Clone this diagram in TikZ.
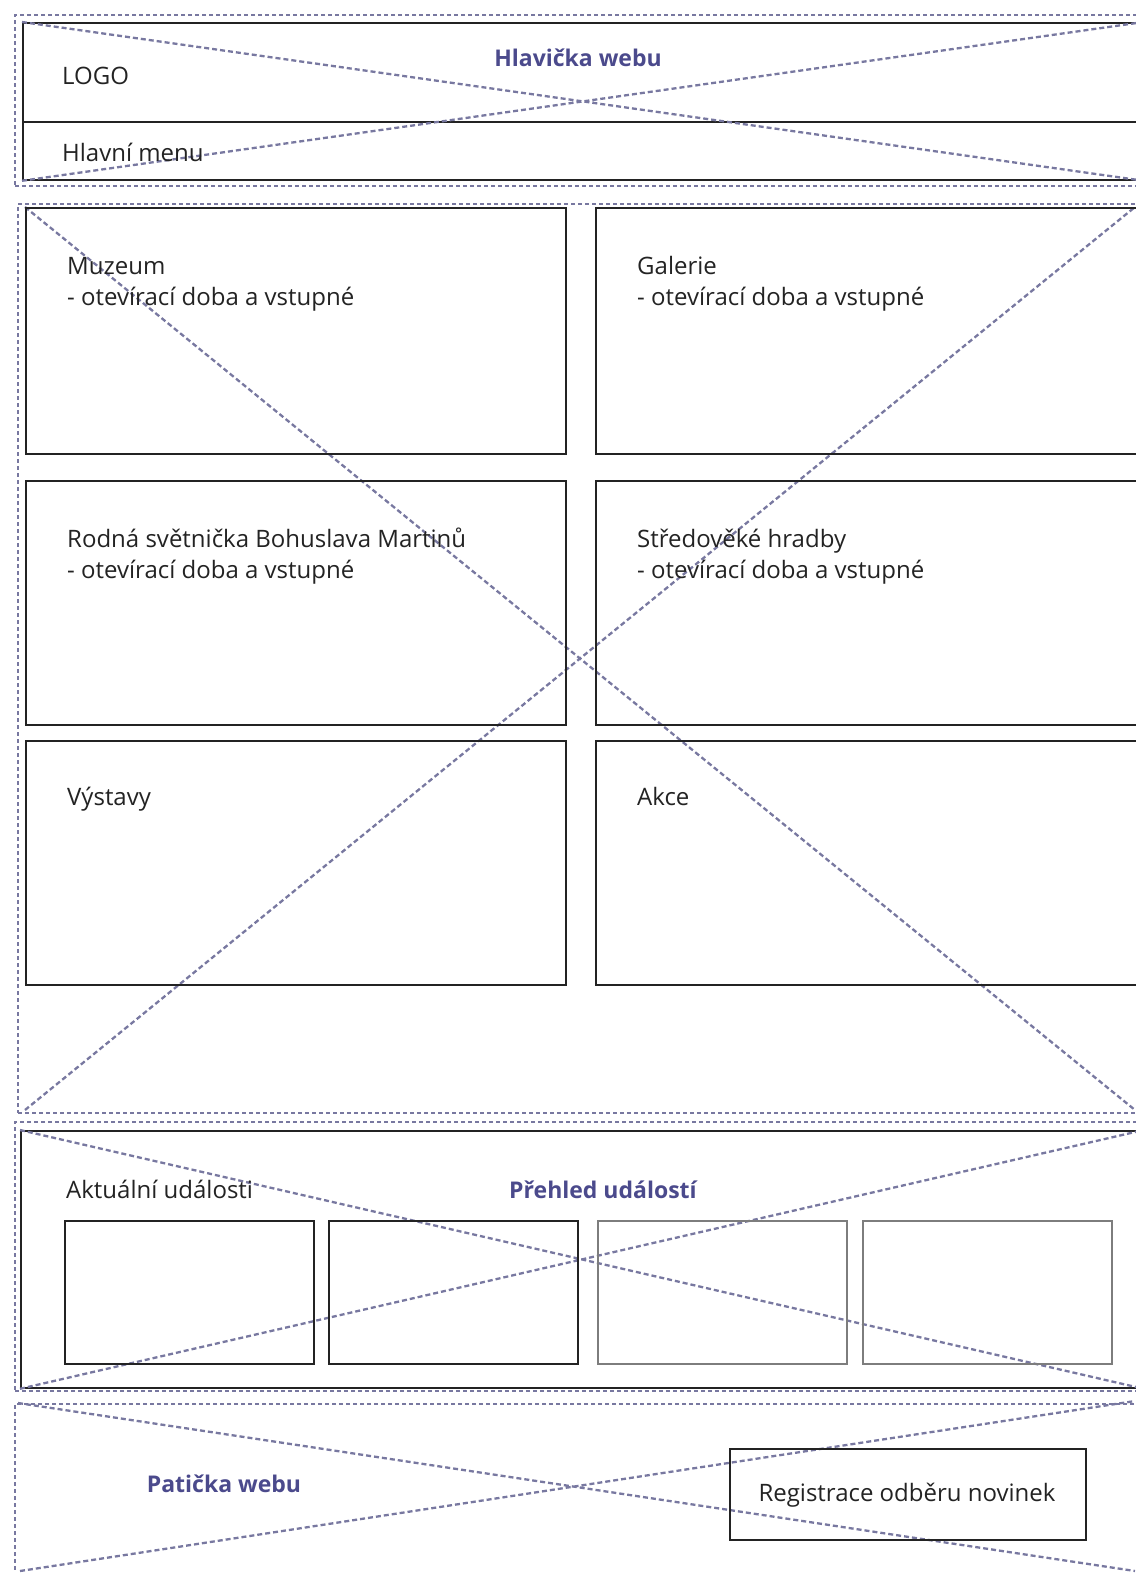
\documentclass[tikz,border=0pt]{standalone}
\usepackage{fontspec}
\setmainfont{Open Sans}
\usepackage{tikz}
\definecolor{WireLine}{RGB}{35,35,35}
\definecolor{WireGray}{RGB}{125,125,125}
\definecolor{WireDash}{RGB}{120,120,160}
\definecolor{WireTitle}{RGB}{75,74,140}

\begin{document}
\begin{tikzpicture}[x=1pt,y=-1pt,
zone/.style n args={2}{draw=WireDash,dash pattern=on 4pt off 3pt,line width=2.3pt,minimum width=#1pt,minimum height=#2pt,inner sep=0pt,rectangle,anchor=north west},
blk/.style n args={3}{draw=#1,line width=1.8pt,minimum width=#2pt,minimum height=#3pt,inner sep=0pt,rectangle,anchor=north west},
xl/.style={draw=WireDash,dash pattern=on 5pt off 3pt,line width=2.3pt},
txt/.style={anchor=base west,inner sep=0pt,text=WireLine,font=\fontsize{24}{28}\selectfont},
ttl/.style={anchor=base,inner sep=0pt,text=WireTitle,font=\bfseries\fontsize{23}{27}\selectfont}]
\useasboundingbox (0,0) rectangle (1135,1573);
% hlavicka webu
\node[zone={1130}{171}](hdr) at(14,14) {};
\node[blk={WireLine}{1120}{157}](hdrbox) at(22,22) {};
\coordinate (menuL) at (22,122);
\draw[WireLine,line width=1.8pt] (menuL) -- (menuL -| hdrbox.east);
\draw[xl] (hdrbox.north west) -- (hdrbox.south east) (hdrbox.south west) -- (hdrbox.north east);
\node[txt](logo) at(62,85) {LOGO};
\node[txt](menu) at(62,162) {Hlavní menu};
\node[ttl](hdrT) at(578,67) {Hlavička webu};
% obsah
\node[zone={1126}{909}](main) at(17,203) {};
\coordinate (mainNW) at (25,207);
\coordinate (mainSW) at (25,1110);
\coordinate (mainNE) at (1135,207);
\coordinate (mainSE) at (1135,1110);
\draw[xl] (mainNW) -- (mainSE) (mainSW) -- (mainNE);
\foreach \y/\h/\n in %
{207/246/1,480/244/2,740/244/3} {
   \node[blk={WireLine}{540}{\h}](l\n) at(25,\y) {};
   \node[blk={WireLine}{545}{\h}](r\n) at(595,\y) {};
}
\node[txt](mzA) at(67,274) {Muzeum};
\node[txt](mzB) at(67,305) {- otevírací doba a vstupné};
\node[txt](galA) at(637,274) {Galerie};
\node[txt](galB) at(637,305) {- otevírací doba a vstupné};
\node[txt](rodA) at(67,547) {Rodná světnička Bohuslava Martinů};
\node[txt](rodB) at(67,578) {- otevírací doba a vstupné};
\node[txt](hradA) at(637,547) {Středověké hradby};
\node[txt](hradB) at(637,578) {- otevírací doba a vstupné};
\node[txt](vyst) at(67,805) {Výstavy};
\node[txt](akce) at(637,805) {Akce};
% prehled udalosti
\node[zone={1130}{269}](evt) at(14,1121) {};
\node[blk={WireLine}{1122}{257}](evtbox) at(20,1130) {};
\draw[xl] (evtbox.north west) -- (evtbox.south east) (evtbox.south west) -- (evtbox.north east);
\node[txt](akt) at(66,1198) {Aktuální události};
\node[ttl](evtT) at(603,1198) {Přehled událostí};
\foreach \x/\c/\n in %
{64/WireLine/1,328/WireLine/2,597/WireGray/3,862/WireGray/4} {
   \node[blk={\c}{249}{143}](ev\n) at(\x,1220) {};
}
% paticka webu
\node[zone={1130}{175}](ftr) at(14,1403) {};
\coordinate (ftrNW) at (18,1403);
\coordinate (ftrSW) at (20,1571);
\coordinate (ftrNE) at (1135,1401);
\coordinate (ftrSE) at (1135,1571);
\draw[xl] (ftrNW) -- (ftrSE) (ftrSW) -- (ftrNE);
\node[ttl](ftrT) at(224,1492) {Patička webu};
\node[blk={WireLine}{356}{91}](reg) at(729,1448) {};
\node[txt,anchor=base](regT) at(907,1501) {Registrace odběru novinek};
\end{tikzpicture}
\end{document}
